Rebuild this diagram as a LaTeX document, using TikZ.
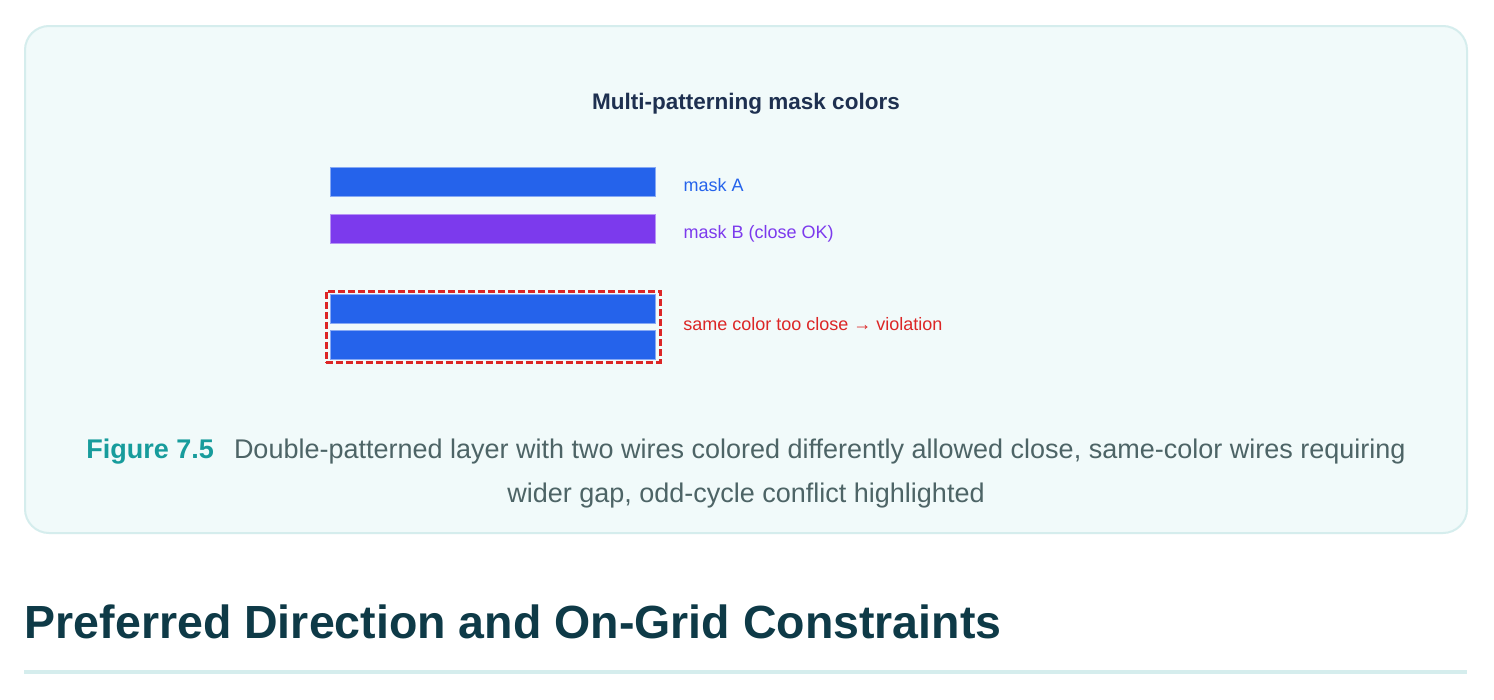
\documentclass[tikz,border=0pt]{standalone}
\usepackage{fontspec}
\setmainfont{Liberation Sans}
\usepackage{xcolor}
\usetikzlibrary{positioning}
\definecolor{maskA}{HTML}{2563EB}
\definecolor{maskB}{HTML}{7C3AED}
\definecolor{badred}{HTML}{DC2626}
\definecolor{panelfill}{HTML}{F1FAFA}
\definecolor{panelline}{HTML}{D5EDED}
\definecolor{titlecol}{HTML}{1E3050}
\definecolor{figcol}{HTML}{179C9C}
\definecolor{capcol}{HTML}{4D6466}
\definecolor{headcol}{HTML}{0E3A47}

\begin{document}
\begin{tikzpicture}[x=1pt, y=-1pt,
    wire/.style={draw=#1!55!white, fill=#1, line width=1pt, minimum width=325pt, minimum height=29pt, inner sep=0pt},
    lbl/.style={font=\fontsize{18}{22}\selectfont, inner sep=0pt},
    conflict/.style={draw=badred, line width=3pt, dash pattern=on 7pt off 3pt, minimum width=333.7pt, minimum height=71.5pt, inner sep=0pt}
]

% page and panel
\useasboundingbox[fill=white] (0,0) rectangle (1494,699);
\draw[panelline, fill=panelfill, line width=2pt, rounded corners=24pt] (25,26) rectangle (1467,533);

% title
\node[font=\fontsize{22.5}{27}\selectfont\bfseries, text=titlecol, anchor=base] (title) at (746,109.3) {Multi-patterning mask colors};

% mask A
\node[wire=maskA] (barA) at (492.5,181.5) {};
\node[lbl, text=maskA, right=28pt of barA, yshift=-4pt] (lblA) {mask A};

% mask B
\node[wire=maskB] (barB) at (492.5,228.5) {};
\node[lbl, text=maskB, right=28pt of barB, yshift=-5pt] (lblB) {mask B (close OK)};

% same colour, too close
\node[conflict] (viol) at (493.3,326.75) {};
\node[wire=maskA] (barC) at (492.5,308.5) {};
\node[wire=maskA] (barD) at (492.5,344.5) {};
\node[lbl, text=badred, right=21.5pt of viol, yshift=2.5pt] (lblC) {same color too close → violation};

% caption
\node[font=\fontsize{27}{44}\selectfont, text=capcol, align=center] (caption) at (746,474)
    {{\bfseries\color{figcol}Figure 7.5}\hspace{20pt}Double-patterned layer with two wires colored differently allowed close, same-color wires requiring\\
     wider gap, odd-cycle conflict highlighted};

% heading below
\node[font=\fontsize{46.5}{52}\selectfont\bfseries, text=headcol, anchor=base west, inner sep=0pt] (heading) at (24.6,638) {Preferred Direction and On-Grid Constraints};
\draw[panelline, line width=4pt] (24,672) -- (1467,672);

\end{tikzpicture}
\end{document}
